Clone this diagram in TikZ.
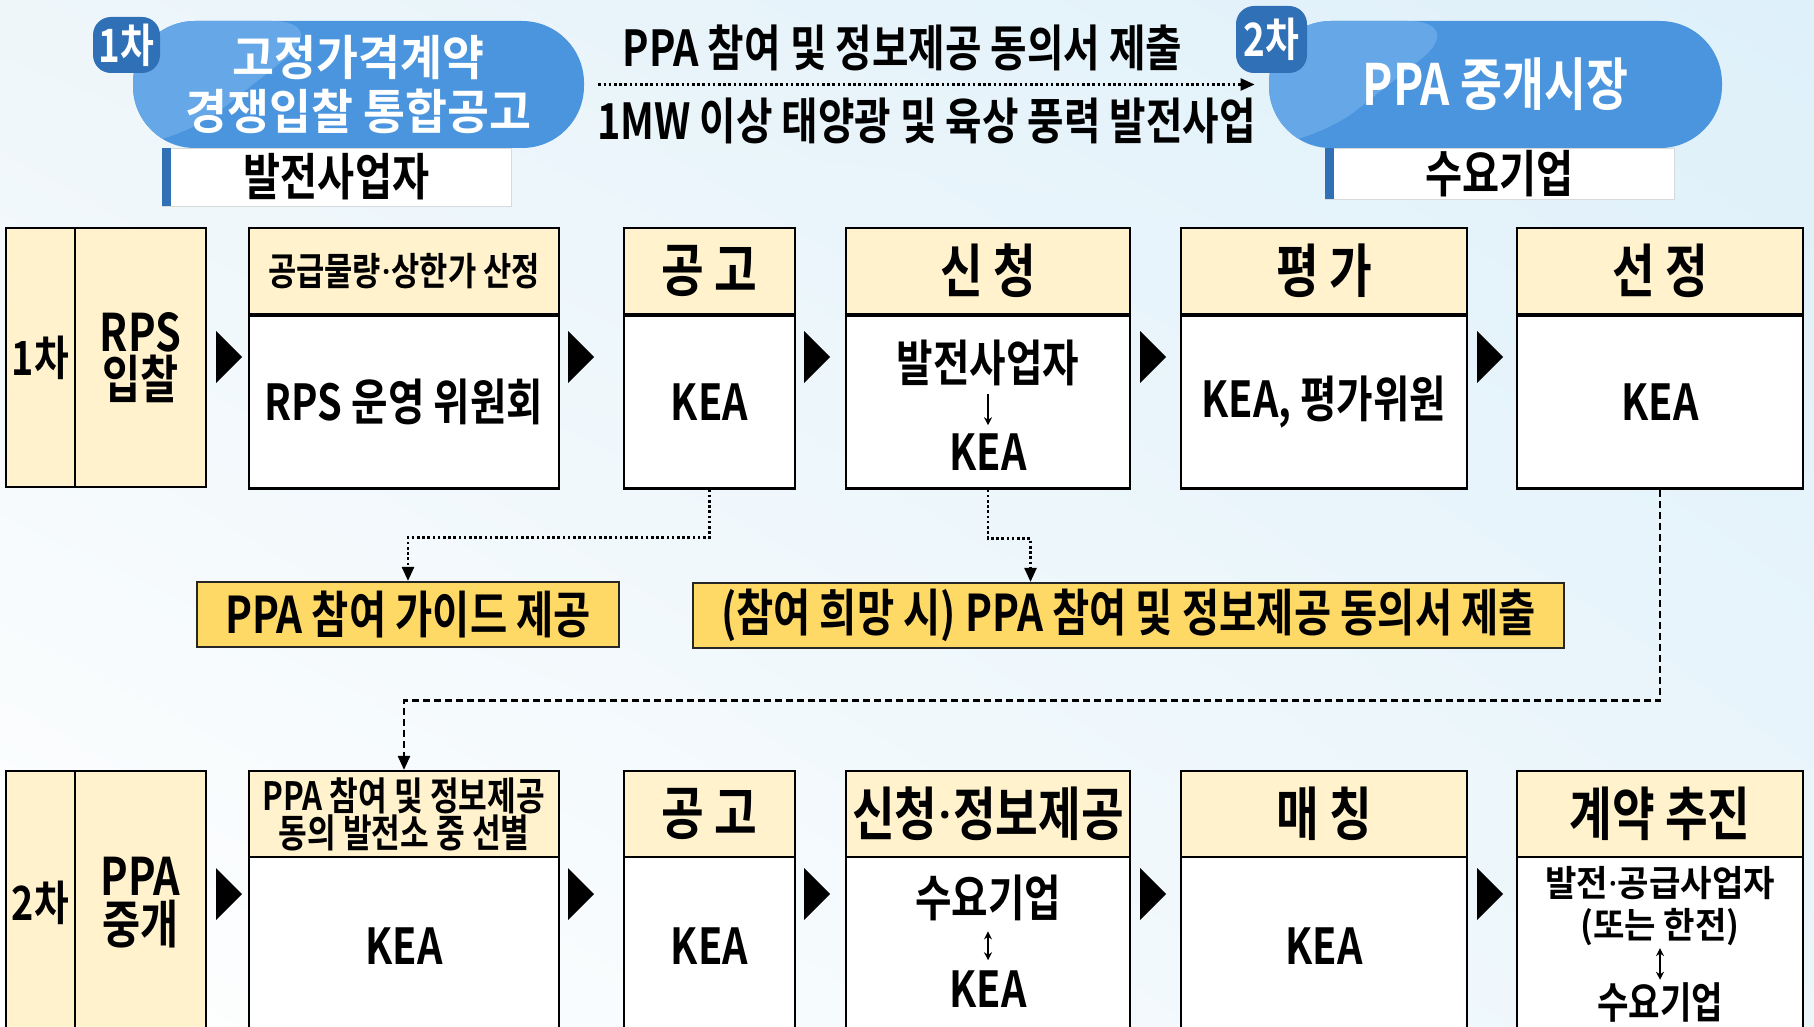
\documentclass[tikz,border=0pt]{standalone}
\usepackage{fontspec}
\setmainfont{Noto Sans CJK KR}[FakeStretch=0.8,BoldFont={Noto Sans CJK KR Bold}]
\newfontfamily\widefont{Noto Sans CJK KR}[FakeStretch=0.95,BoldFont={Noto Sans CJK KR Bold}]
\newfontfamily\dotfont{Noto Sans}
\newcommand{\md}{{\dotfont ·}}
\usetikzlibrary{arrows.meta,positioning,shadings}
\definecolor{pillblue}{RGB}{74,149,222}
\definecolor{pilllight}{RGB}{102,168,231}
\definecolor{tabblue}{RGB}{47,112,182}
\definecolor{cream}{RGB}{255,242,204}
\definecolor{gold}{RGB}{255,217,102}
\definecolor{bgA}{RGB}{238,246,250}
\definecolor{bgB}{RGB}{222,240,250}
\definecolor{bgC}{RGB}{236,246,251}

\begin{document}
\begin{tikzpicture}[x=0.5pt,y=-0.5pt,
  box/.style={draw,line width=1.1pt,inner sep=0pt,align=center},
  hd/.style={box,fill=cream,minimum height=43pt,font=\bfseries\fontsize{29}{30}\selectfont},
  bd/.style={box,fill=white,font=\bfseries\fontsize{24.8}{26}\selectfont},
  side/.style={box,fill=cream},
  txt/.style={inner sep=1pt,align=center,font=\bfseries\fontsize{24.8}{26}\selectfont},
  wbox/.style={fill=white,draw=black!15,inner sep=0pt,font=\bfseries\fontsize{25.2}{26}\selectfont},
  pill/.style={fill=pillblue,rounded corners=31pt,minimum height=63.5pt,text=white,align=center,
    font=\bfseries\fontsize{28.5}{27}\selectfont,
    path picture={\fill[pilllight] (path picture bounding box.north west) -- ++(100pt,0pt) -- ++(-80pt,-63.5pt) -- (path picture bounding box.south west) -- cycle;}},
  tab/.style={fill=tabblue,rounded corners=9pt,text=white,inner sep=0pt,font=\bfseries\fontsize{23}{24}\selectfont},
  gbox/.style={box,draw=black!85,fill=gold,minimum height=32.5pt,font=\bfseries\fontsize{25.3}{26}\selectfont},
  dotline/.style={dash pattern=on 1.3pt off 1.3pt,line width=1.3pt,-{Triangle[length=7pt,width=6pt]}},
  dashline/.style={dash pattern=on 3.5pt off 2pt,line width=1.2pt,-{Triangle[length=7pt,width=6pt]}},
  inarrow/.style={line width=0.8pt,shorten <=3pt,shorten >=3pt}]
\useasboundingbox (0,0) rectangle (1814,1027);
\shade[upper left=bgA,upper right=bgB,lower left=white,lower right=bgC] (0,0) rectangle (1814,1027);

%top left
\node[wbox,minimum width=174.5pt,minimum height=29pt] (gen) at (336.5,177) {발전사업자};
\fill[tabblue] (gen.north west) rectangle ++(9,58);
\node[pill,minimum width=225.5pt,font=\widefont\bfseries\fontsize{24}{27}\selectfont] (p1) at (358.5,84.5) {고정가격계약\\경쟁입찰 통합공고};
\node[tab,minimum width=33.5pt,minimum height=28pt] (t1) at (126.5,45) {1차};
%top right
\node[wbox,minimum width=174.5pt,minimum height=25.5pt] (dem) at (1499.5,173.5) {수요기업};
\fill[tabblue] (dem.north west) rectangle ++(9,51);
\node[pill,minimum width=226.5pt] (p2) at (1495.5,84.5) {PPA 중개시장};
\node[tab,minimum width=35.5pt,minimum height=33.5pt] (t2) at (1271.5,39.5) {2차};
\draw[dotline,shorten <=7pt,shorten >=7pt] (p1) -- (p2)
  node[txt,midway,above=5pt,xshift=-12pt] {PPA 참여 및 정보제공 동의서 제출}
  node[txt,midway,below=5pt] {1MW 이상 태양광 및 육상 풍력 발전사업};

%row 1
\node[side,minimum width=34.5pt,minimum height=129.5pt,font=\bfseries\fontsize{23.6}{24}\selectfont] (s11) at (40.5,357.5) {1차};
\node[side,minimum width=65.5pt,minimum height=129.5pt,font=\bfseries\fontsize{25.9}{23.5}\selectfont] (s12) at (140.5,357.5) {RPS\\입찰};
\node[hd,minimum width=155pt,font=\bfseries\fontsize{19.2}{20}\selectfont] (h11) at (404,271) {공급물량\md 상한가 산정};
\node[hd,minimum width=85.5pt] (h12) at (709.5,271) {공 고};
\node[hd,minimum width=142pt] (h13) at (988,271) {신 청};
\node[hd,minimum width=143pt] (h14) at (1324,271) {평 가};
\node[hd,minimum width=143pt] (h15) at (1660,271) {선 정};
\node[bd,minimum width=155pt,minimum height=86.5pt] (b11) at (404,402) {RPS 운영 위원회};
\node[bd,minimum width=85.5pt,minimum height=86.5pt] (b12) at (709.5,402) {KEA};
\node[bd,minimum width=142pt,minimum height=86.5pt] (b13) at (988,402) {};
\node[bd,minimum width=143pt,minimum height=86.5pt] (b14) at (1324,402) {KEA, 평가위원};
\node[bd,minimum width=143pt,minimum height=86.5pt] (b15) at (1660,402) {KEA};
\node[txt] (t13a) at (988,363) {발전사업자};
\node[txt] (t13b) at (988,452) {KEA};
\draw[inarrow,-{Stealth[length=4pt,width=4pt]}] (t13a) -- (t13b);

%row 2
\node[side,minimum width=34.5pt,minimum height=132pt,font=\bfseries\fontsize{23.6}{24}\selectfont] (s21) at (40.5,903) {2차};
\node[side,minimum width=65.5pt,minimum height=132pt,font=\bfseries\fontsize{25.9}{24}\selectfont] (s22) at (140.5,903) {PPA\\중개};
\node[hd,minimum width=155pt,font=\bfseries\fontsize{19.5}{18.5}\selectfont] (h21) at (404,814) {PPA 참여 및 정보제공\\동의 발전소 중 선별};
\node[hd,minimum width=85.5pt] (h22) at (709.5,814) {공 고};
\node[hd,minimum width=142pt] (h23) at (988,814) {신청\md 정보제공};
\node[hd,minimum width=143pt] (h24) at (1324,814) {매 칭};
\node[hd,minimum width=143pt] (h25) at (1660,814) {계약 추진};
\node[bd,minimum width=155pt,minimum height=89pt] (b21) at (404,946) {KEA};
\node[bd,minimum width=85.5pt,minimum height=89pt] (b22) at (709.5,946) {KEA};
\node[bd,minimum width=142pt,minimum height=89pt] (b23) at (988,946) {};
\node[bd,minimum width=143pt,minimum height=89pt] (b24) at (1324,946) {KEA};
\node[bd,minimum width=143pt,minimum height=89pt] (b25) at (1660,946) {};
\node[txt] (t23a) at (988,898) {수요기업};
\node[txt] (t23b) at (988,989) {KEA};
\draw[inarrow,shorten <=4pt,shorten >=4pt,{Stealth[length=4pt,width=4pt]}-{Stealth[length=4pt,width=4pt]}] (t23a) -- (t23b);
\node[txt,font=\widefont\bfseries\fontsize{18}{21}\selectfont] (t25a) at (1660,906) {발전\md 공급사업자\\(또는 한전)};
\node[txt,font=\bfseries\fontsize{21.4}{22}\selectfont] (t25b) at (1660,1002) {수요기업};
\draw[inarrow,shorten <=0pt,shorten >=0pt,{Stealth[length=4pt,width=4pt]}-{Stealth[length=4pt,width=4pt]}] (t25a) -- (t25b);

%arrows between steps
\foreach \x in {216,568,804,1140,1477} {
  \fill (\x,331) -- ++(26,26) -- ++(-26,26) -- cycle;
  \fill (\x,868) -- ++(26,26) -- ++(-26,26) -- cycle;
}

%PPA guide and consent
\node[gbox,minimum width=211pt] (ga) at (408,614.5) {PPA 참여 가이드 제공};
\node[gbox,minimum width=435.5pt] (gb) at (1128.5,615.5) {(참여 희망 시) PPA 참여 및 정보제공 동의서 제출};
\draw[dotline] (b12.south) -- ++(0,48) -| (ga.north);
\draw[dotline] (b13.south) -- ++(0,49) -| ([xshift=-49pt]gb.north);
\draw[dashline] (b15.south) -- ++(0,211) -| (h21.north);
\end{tikzpicture}
\end{document}
